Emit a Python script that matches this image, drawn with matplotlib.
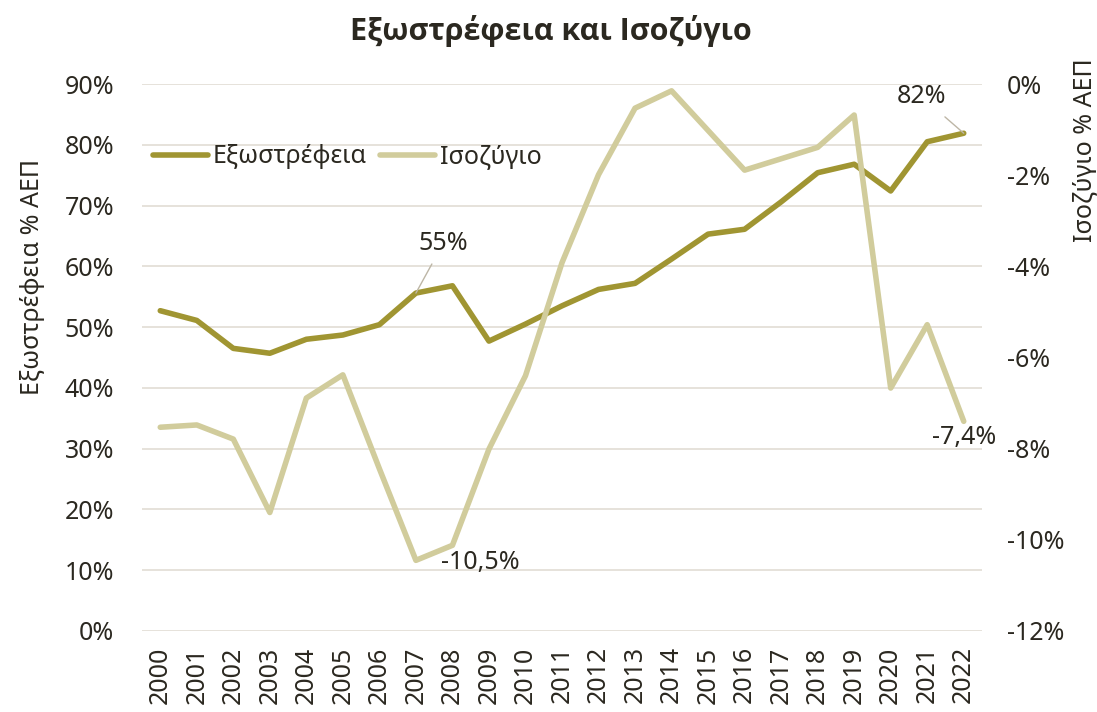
import matplotlib.pyplot as plt
from matplotlib.ticker import FuncFormatter, MultipleLocator

# ------------------------------------------------------------
# data
# ------------------------------------------------------------
years = ["2000", "2001", "2002", "2003", "2004", "2005", "2006", "2007",
         "2008", "2009", "2010", "2011", "2012", "2013", "2014", "2015",
         "2016", "2017", "2018", "2019", "2020", "2021", "2022"]

# exports, % of GDP (left axis)
exports = [52.7, 51.1, 46.5, 45.7, 48.0, 48.7, 50.4, 55.6, 56.8, 47.7,
           50.5, 53.5, 56.2, 57.2, 61.2, 65.3, 66.1, 70.6, 75.4, 76.8,
           72.4, 80.5, 81.9]

# current account balance, % of GDP (right axis)
balance = [-7.53, -7.48, -7.79, -9.40, -6.89, -6.38, -8.44, -10.45, -10.12,
           -8.01, -6.40, -3.92, -1.99, -0.53, -0.15, -1.02, -1.89, -1.64,
           -1.39, -0.68, -6.67, -5.28, -7.40]

title = "Εξωστρέφεια και Ισοζύγιο"
exports_name = "Εξωστρέφεια"
balance_name = "Ισοζύγιο"
left_label = "Εξωστρέφεια % ΑΕΠ"
right_label = "Ισοζύγιο % ΑΕΠ"

EXP_COLOR = "#A09532"
BAL_COLOR = "#D1CC9C"
TEXT_COLOR = "#2B2820"
GRID_COLOR = "#E6E2DA"
LEADER_COLOR = "#BDB6A6"


def main():
    plt.rcParams.update({
        "font.family": ["Noto Sans", "DejaVu Sans"],
        "axes.unicode_minus": False,
        "text.color": TEXT_COLOR,
    })

    W, H = 1097, 712
    fig = plt.figure(figsize=(W / 100, H / 100), dpi=100)

    left, right, top, bottom = 142, 982, 84, 631
    ax = fig.add_axes([left / W, 1 - bottom / H, (right - left) / W, (bottom - top) / H])
    ax2 = ax.twinx()

    x = list(range(len(years)))

    line1, = ax.plot(x, exports, color=EXP_COLOR, linewidth=4.0,
                     solid_capstyle="round", solid_joinstyle="round",
                     label=exports_name)
    line2, = ax2.plot(x, balance, color=BAL_COLOR, linewidth=4.0,
                      solid_capstyle="round", solid_joinstyle="round",
                      label=balance_name)

    # axes limits / ticks
    ax.set_xlim(-0.5, len(years) - 0.5)
    ax.set_ylim(0, 90)
    ax.yaxis.set_major_locator(MultipleLocator(10))
    ax.yaxis.set_major_formatter(FuncFormatter(lambda v, p: f"{v:.0f}%"))

    ax2.set_ylim(-12, 0)
    ax2.yaxis.set_major_locator(MultipleLocator(2))
    ax2.yaxis.set_major_formatter(FuncFormatter(lambda v, p: f"{v:.0f}%"))

    ax.set_xticks(x)
    ax.set_xticklabels(years, rotation=90)

    ax.grid(True, axis="y", color=GRID_COLOR, linewidth=1.4)
    ax.set_axisbelow(True)

    for a in (ax, ax2):
        for s in a.spines.values():
            s.set_visible(False)

    fs = 18
    ax.tick_params(axis="y", length=0, pad=20, labelsize=fs, labelcolor=TEXT_COLOR)
    ax.tick_params(axis="x", length=0, pad=11, labelsize=fs, labelcolor=TEXT_COLOR)
    ax2.tick_params(axis="y", length=0, pad=18, labelsize=fs, labelcolor=TEXT_COLOR)

    # axis titles
    fig.text(33 / W, 1 - 277 / H, left_label, rotation=90, ha="center",
             va="center", fontsize=fs)
    fig.text(1085 / W, 1 - 150 / H, right_label, rotation=90, ha="center",
             va="center", fontsize=fs)

    # chart title
    fig.text(551 / W, 1 - 31 / H, title, ha="center", va="center",
             fontsize=22, fontweight="bold", family=["Open Sans", "Roboto", "DejaVu Sans"])

    # legend
    ax2.legend(handles=[line1, line2], loc="center left",
               bbox_to_anchor=(0.013, 0.867), ncol=2, frameon=False,
               fontsize=fs, handlelength=2.2, handletextpad=0.2,
               columnspacing=0.5, borderaxespad=0.0, borderpad=0.0)

    # data labels
    ax.annotate("55%", xy=(7, exports[7]), xytext=(7.74, 63.7),
                ha="center", va="center", fontsize=fs,
                arrowprops=dict(arrowstyle="-", color=LEADER_COLOR,
                                lw=1.0, shrinkA=4, shrinkB=0))
    ax.annotate("82%", xy=(22, exports[22]), xytext=(20.83, 88.0),
                ha="center", va="center", fontsize=fs,
                arrowprops=dict(arrowstyle="-", color=LEADER_COLOR,
                                lw=1.0, shrinkA=6, shrinkB=0))
    ax2.text(8.75, -10.5, "-10,5%", ha="center", va="center", fontsize=fs)
    ax2.text(22.0, -7.75, "-7,4%", ha="center", va="center", fontsize=fs)

    fig.savefig("out.png", dpi=100)


if __name__ == "__main__":
    main()
